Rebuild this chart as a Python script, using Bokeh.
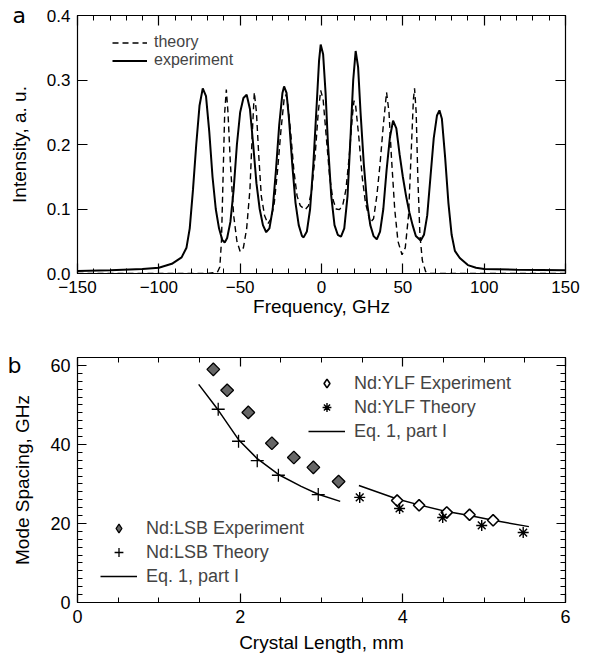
from bokeh.plotting import figure
from bokeh.models import (FixedTicker, LinearAxis, Legend, LegendItem,
                          Range1d, PrintfTickFormatter, CustomLabelingPolicy)
from bokeh.layouts import column
from bokeh.embed import file_html
from bokeh.resources import INLINE

FONT = "Liberation Sans"

# ---------------- panel a data ----------------
exp_freq = [-150, -130, -110, -100, -92, -86, -83, -81, -79, -77, -75, -73, -71, -69, -67, -65,
            -63, -61, -59.5, -58, -56, -54, -52, -50, -48, -46, -44, -42, -40, -38, -36, -34,
            -32, -30, -28, -26, -24, -23, -21.5, -20, -18, -16, -14, -12, -11, -9, -7, -5, -3,
            -1.5, -0.5, 1, 2.5, 4, 6, 8, 10, 12, 14, 16, 18, 19.5, 21, 22.5, 24, 26, 28, 30, 32,
            34, 36, 38, 40, 42, 44, 46, 48, 50, 52, 54, 56, 58, 61, 63, 65, 67, 69, 71, 72.5, 74,
            76, 78, 80, 82, 85, 90, 95, 100, 120, 150]
exp_int = [0.004, 0.005, 0.007, 0.009, 0.015, 0.025, 0.04, 0.07, 0.13, 0.20, 0.26, 0.287, 0.275,
           0.22, 0.15, 0.10, 0.07, 0.052, 0.048, 0.055, 0.08, 0.13, 0.20, 0.25, 0.272, 0.277,
           0.255, 0.20, 0.14, 0.10, 0.075, 0.064, 0.07, 0.10, 0.16, 0.23, 0.28, 0.29, 0.28, 0.24,
           0.17, 0.11, 0.075, 0.058, 0.056, 0.065, 0.10, 0.17, 0.26, 0.33, 0.355, 0.34, 0.28,
           0.20, 0.12, 0.075, 0.06, 0.057, 0.07, 0.12, 0.22, 0.30, 0.345, 0.32, 0.25, 0.17, 0.11,
           0.075, 0.058, 0.053, 0.065, 0.10, 0.16, 0.21, 0.237, 0.225, 0.185, 0.15, 0.12, 0.095,
           0.075, 0.058, 0.051, 0.06, 0.09, 0.15, 0.21, 0.245, 0.253, 0.24, 0.18, 0.11, 0.06,
           0.035, 0.024, 0.013, 0.009, 0.007, 0.006, 0.005]

theo_freq = [-150, -70, -64, -62.5, -61.5, -60.5, -59.5, -58.5, -57.5, -56, -54, -52, -50, -48,
             -46, -44, -42.5, -41.3, -40, -38.5, -37, -35, -33, -31, -29, -27, -25, -23, -22, -21,
             -19, -17, -15, -13, -10, -8, -6, -4, -2, -0.5, 1, 3, 5, 7, 9, 11, 13, 15, 17, 19, 20,
             21, 23, 25, 27, 30, 32, 34, 36, 38, 40, 41.5, 43, 45, 47, 49.5, 51.5, 53.5, 55, 56.5,
             57.2, 58.2, 59.2, 60.5, 62, 64, 66, 150]
theo_int = [0, 0, 0.002, 0.01, 0.05, 0.15, 0.25, 0.285, 0.25, 0.17, 0.09, 0.05, 0.034, 0.04,
            0.07, 0.13, 0.22, 0.281, 0.25, 0.18, 0.12, 0.09, 0.077, 0.085, 0.11, 0.16, 0.22, 0.27,
            0.277, 0.27, 0.22, 0.16, 0.12, 0.105, 0.099, 0.105, 0.13, 0.18, 0.25, 0.284, 0.27,
            0.21, 0.15, 0.115, 0.10, 0.099, 0.105, 0.13, 0.18, 0.245, 0.268, 0.26, 0.21, 0.15,
            0.11, 0.079, 0.085, 0.12, 0.17, 0.23, 0.281, 0.25, 0.18, 0.10, 0.05, 0.029, 0.04,
            0.09, 0.18, 0.27, 0.287, 0.25, 0.15, 0.06, 0.02, 0.003, 0, 0]

a_xticks = [-150, -100, -50, 0, 50, 100, 150]
a_yticks = [0.0, 0.1, 0.2, 0.3, 0.4]

# ---------------- panel b data ----------------
lsb_exp_len = [1.67, 1.84, 2.10, 2.39, 2.66, 2.90, 3.21]
lsb_exp_sp = [59.0, 53.7, 48.1, 40.3, 36.7, 34.2, 30.6]
lsb_th_len = [1.73, 1.98, 2.21, 2.47, 2.96]
lsb_th_sp = [48.9, 40.8, 35.9, 32.2, 27.3]
lsb_eq_len = [1.49, 1.73, 1.98, 2.21, 2.47, 2.75, 2.96, 3.23]
lsb_eq_sp = [55.2, 48.7, 41.2, 36.4, 32.4, 29.4, 27.4, 25.6]
ylf_exp_len = [3.93, 4.20, 4.54, 4.82, 5.11]
ylf_exp_sp = [25.8, 24.6, 22.8, 22.2, 20.8]
ylf_th_len = [3.47, 3.96, 4.49, 4.97, 5.48]
ylf_th_sp = [26.6, 23.8, 21.5, 19.5, 17.7]
ylf_eq_len = [3.46, 3.93, 4.20, 4.54, 4.82, 5.11, 5.55]
ylf_eq_sp = [29.6, 26.2, 24.7, 23.0, 22.0, 20.8, 19.2]

b_xticks = [0, 2, 4, 6]
b_yticks = [0, 20, 40, 60]


def frange(a, b, step):
    out = []
    v = a
    while v <= b + 1e-9:
        out.append(round(v, 6))
        v += step
    return out


def style_axis(ax, ticks, minor, size, maj_in, min_in, labels=True, fmt=None):
    ax.ticker = FixedTicker(ticks=ticks, minor_ticks=minor)
    ax.major_tick_in = maj_in
    ax.major_tick_out = 0
    ax.minor_tick_in = min_in
    ax.minor_tick_out = 0
    ax.axis_line_color = "black"
    ax.major_tick_line_color = "black"
    ax.minor_tick_line_color = "black"
    ax.major_tick_line_width = 1.2
    ax.minor_tick_line_width = 1
    if labels:
        ax.major_label_text_font = FONT
        ax.major_label_text_font_size = size
        ax.major_label_text_color = "black"
        ax.major_label_standoff = 7
        if fmt is not None:
            ax.formatter = fmt
    else:
        ax.major_label_policy = CustomLabelingPolicy(code="return []")
        ax.major_label_text_font_size = "0px"
        ax.major_label_text_alpha = 0
        ax.major_label_standoff = 0


def base_fig(h, xr, yr, left, right, top, bottom):
    p = figure(width=600, height=h, x_range=xr, y_range=yr, output_backend="svg",
               toolbar_location=None, min_border_left=left, min_border_right=right,
               min_border_top=top, min_border_bottom=bottom)
    p.xgrid.visible = False
    p.ygrid.visible = False
    p.outline_line_color = "black"
    p.outline_line_width = 1.2
    p.background_fill_color = "white"
    p.border_fill_color = "white"
    return p


def panel_letter(p, letter, offset, standoff):
    p.title.text = letter
    p.title.align = "left"
    p.title.offset = offset
    p.title.standoff = standoff
    p.title.vertical_align = "bottom"
    p.title.text_font = "DejaVu Sans"
    p.title.text_font_size = "22px"
    p.title.text_font_style = "normal"
    p.title.text_color = "black"


# ================= panel a =================
pa = base_fig(328, Range1d(-150, 150), Range1d(0, 0.4), 75, 17, 15, 55)
r_exp = pa.line(exp_freq, exp_int, line_color="black", line_width=2)
r_theo = pa.line(theo_freq, theo_int, line_color="black", line_width=1.4, line_dash="6 4")

style_axis(pa.xaxis[0], a_xticks, frange(-150, 150, 10), "17px", 10, 5)
style_axis(pa.yaxis[0], a_yticks, [], "17px", 10, 0, fmt=PrintfTickFormatter(format="%.1f"))
pa.xaxis[0].axis_label = "Frequency, GHz"
pa.yaxis[0].axis_label = "Intensity, a. u."
for ax in (pa.xaxis[0], pa.yaxis[0]):
    ax.axis_label_text_font = FONT
    ax.axis_label_text_font_size = "19px"
    ax.axis_label_text_font_style = "normal"
    ax.axis_label_text_color = "black"
pa.xaxis[0].axis_label_standoff = 0
pa.yaxis[0].axis_label_standoff = 14

ax_top = LinearAxis()
style_axis(ax_top, a_xticks, frange(-150, 150, 10), "0px", 10, 5, labels=False)
pa.add_layout(ax_top, "above")
ax_right = LinearAxis()
style_axis(ax_right, a_yticks, [], "0px", 10, 0, labels=False)
pa.add_layout(ax_right, "right")

leg_a = Legend(items=[LegendItem(label="theory", renderers=[r_theo]),
                      LegendItem(label="experiment", renderers=[r_exp])],
               location=(30, 199), orientation="vertical")
leg_a.margin = 0
leg_a.padding = 5
leg_a.spacing = 0
leg_a.glyph_width = 35
leg_a.glyph_height = 15
leg_a.label_height = 15
leg_a.label_standoff = 7
leg_a.label_text_font = FONT
leg_a.label_text_font_size = "16px"
leg_a.label_text_baseline = "middle"
leg_a.border_line_alpha = 0
leg_a.background_fill_alpha = 0
pa.add_layout(leg_a)

panel_letter(pa, "a", -65, -24)

# ================= panel b =================
pb = base_fig(328, Range1d(0, 6), Range1d(0, 62), 77, 35, 29, 54)

r_lsb_eq = pb.line(lsb_eq_len, lsb_eq_sp, line_color="black", line_width=1.5)
r_ylf_eq = pb.line(ylf_eq_len, ylf_eq_sp, line_color="black", line_width=1.5)
r_lsb_exp = pb.scatter(lsb_exp_len, lsb_exp_sp, marker="square", size=9, angle=0.785398,
                       fill_color="#666666", line_color="black", line_width=1.3)
r_lsb_th = pb.scatter(lsb_th_len, lsb_th_sp, marker="cross", size=13,
                      line_color="black", line_width=1.3)
r_ylf_exp = pb.scatter(ylf_exp_len, ylf_exp_sp, marker="square", size=8, angle=0.785398,
                       fill_color="white", line_color="black", line_width=1.6)
r_ylf_th = pb.scatter(ylf_th_len, ylf_th_sp, marker="asterisk", size=11,
                      line_color="black", line_width=1.4)

# key glyphs (hidden on the plot, used only so the legend shows a diamond)
k_lsb_exp = pb.scatter(lsb_exp_len, lsb_exp_sp, marker="diamond", size=14, visible=False,
                       fill_color="#666666", line_color="black", line_width=1.3)
k_ylf_exp = pb.scatter(ylf_exp_len, ylf_exp_sp, marker="diamond", size=14, visible=False,
                       fill_color="white", line_color="black", line_width=1.6)

style_axis(pb.xaxis[0], b_xticks, frange(0, 6, 0.5), "18px", 9, 5)
style_axis(pb.yaxis[0], b_yticks, frange(0, 62, 2), "18px", 9, 5)
pb.xaxis[0].axis_label = "Crystal Length, mm"
pb.yaxis[0].axis_label = "Mode Spacing, GHz"
for ax in (pb.xaxis[0], pb.yaxis[0]):
    ax.axis_label_text_font = FONT
    ax.axis_label_text_font_size = "19px"
    ax.axis_label_text_font_style = "normal"
    ax.axis_label_text_color = "black"
pb.xaxis[0].axis_label_standoff = 6
pb.yaxis[0].axis_label_standoff = 14

bx_top = LinearAxis()
style_axis(bx_top, b_xticks, frange(0, 6, 0.5), "0px", 9, 5, labels=False)
pb.add_layout(bx_top, "above")
by_right = LinearAxis()
style_axis(by_right, b_yticks, frange(0, 62, 2), "0px", 9, 5, labels=False)
pb.add_layout(by_right, "right")


def make_legend(items, loc):
    lg = Legend(items=items, location=loc, orientation="vertical")
    lg.margin = 0
    lg.padding = 5
    lg.spacing = 2
    lg.glyph_width = 37
    lg.glyph_height = 22
    lg.label_height = 22
    lg.label_standoff = 9
    lg.label_text_font = FONT
    lg.label_text_font_size = "18px"
    lg.label_text_baseline = "middle"
    lg.border_line_alpha = 0
    lg.background_fill_alpha = 0
    lg.inactive_fill_alpha = 0
    return lg


leg_b1 = make_legend([LegendItem(label="Nd:YLF Experiment", renderers=[k_ylf_exp]),
                      LegendItem(label="Nd:YLF Theory", renderers=[r_ylf_th]),
                      LegendItem(label="Eq. 1, part I", renderers=[r_ylf_eq])], (226, 155))
leg_b2 = make_legend([LegendItem(label="Nd:LSB Experiment", renderers=[k_lsb_exp]),
                      LegendItem(label="Nd:LSB Theory", renderers=[r_lsb_th]),
                      LegendItem(label="Eq. 1, part I", renderers=[r_lsb_eq])], (18, 10))
pb.add_layout(leg_b1)
pb.add_layout(leg_b2)

panel_letter(pb, "\nb", -70, -40)

layout = column(pa, pb)
open("out.html", "w").write(file_html(layout, INLINE))
